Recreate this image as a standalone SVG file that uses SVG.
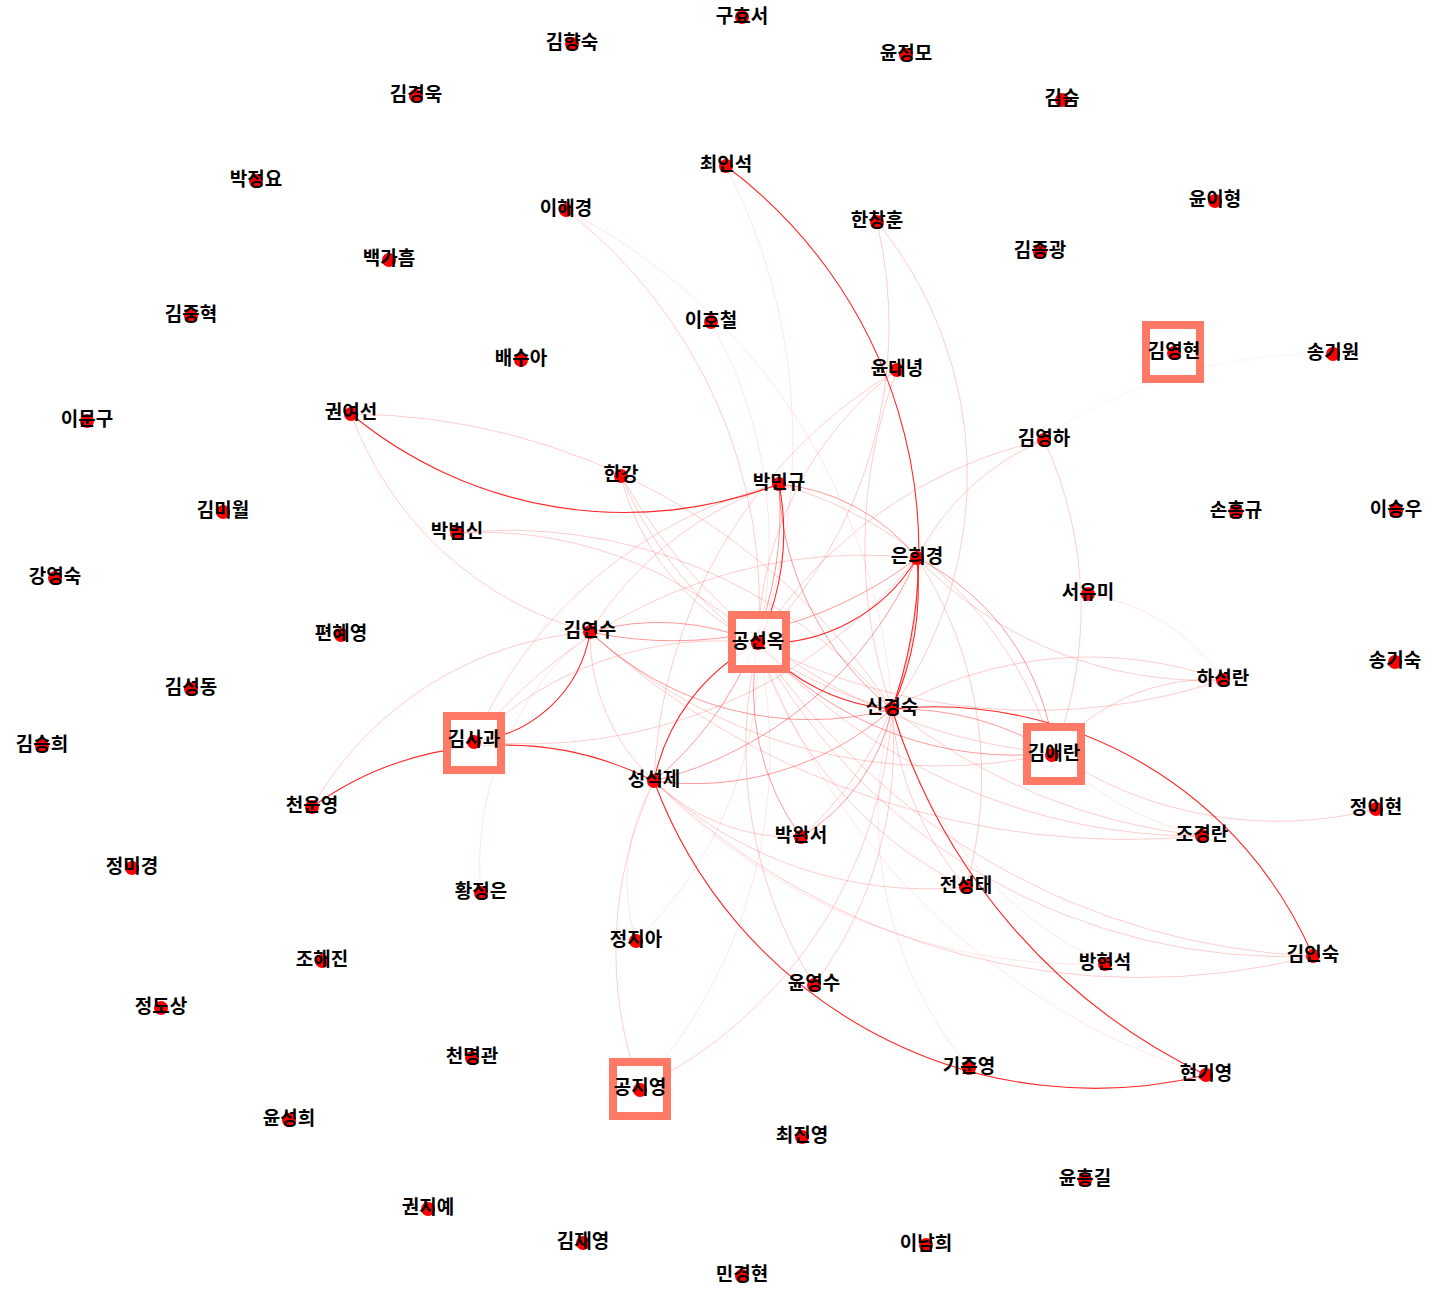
<svg xmlns="http://www.w3.org/2000/svg" width="1434" height="1289" viewBox="0 0 1434 1289">
<style>
.e{fill:none;stroke:#ff0000}
.a{stroke-opacity:.85;stroke-width:1.1}
.b{stroke-opacity:.4;stroke-width:1}
.c{stroke-opacity:.2;stroke-width:1}
.d{stroke-opacity:.1;stroke-width:1}
.hl{fill:#fff;fill-opacity:.85;stroke:#ff7a66;stroke-width:8}
.dot{fill:#ff0000}
.lbl{font-family:"Noto Sans CJK KR","Noto Sans",sans-serif;font-size:19px;font-weight:bold;fill:#000;text-anchor:middle;dominant-baseline:central}
</style>
<rect width="1434" height="1289" fill="#fff"/>
<g id="edges">
<path class="e a" d="M726,166 A480,480 0 0 1 892,709"/>
<path class="e a" d="M351,414 A430,430 0 0 0 779,484"/>
<path class="e a" d="M590,632 A130,130 0 0 1 474,741"/>
<path class="e a" d="M312,807 A330,330 0 0 1 654,781"/>
<path class="e a" d="M654,781 A470,470 0 0 0 1206,1075"/>
<path class="e a" d="M892,709 A600,600 0 0 0 1206,1075"/>
<path class="e a" d="M892,709 A412,412 0 0 1 1313,956"/>
<path class="e a" d="M758,643 A175,175 0 0 0 917,558"/>
<path class="e a" d="M758,643 A200,200 0 0 0 892,709"/>
<path class="e a" d="M654,781 A200,200 0 0 1 758,643"/>
<path class="e b" d="M917,558 A390,390 0 0 1 654,781"/>
<path class="e a" d="M917,558 A300,300 0 0 1 892,709"/>
<path class="e a" d="M779,484 A250,250 0 0 1 758,643"/>
<path class="e b" d="M590,632 A250,250 0 0 1 758,643"/>
<path class="e b" d="M758,643 A350,350 0 0 0 1054,753"/>
<path class="e b" d="M779,484 A300,300 0 0 0 892,709"/>
<path class="e b" d="M779,484 A350,350 0 0 1 654,781"/>
<path class="e b" d="M779,484 A200,200 0 0 1 917,558"/>
<path class="e c" d="M779,484 A400,400 0 0 1 1054,753"/>
<path class="e b" d="M917,558 A400,400 0 0 1 590,632"/>
<path class="e c" d="M917,558 A500,500 0 0 1 474,741"/>
<path class="e b" d="M590,632 A320,320 0 0 0 892,709"/>
<path class="e c" d="M590,632 A520,520 0 0 0 1054,753"/>
<path class="e c" d="M590,632 A200,200 0 0 0 654,781"/>
<path class="e b" d="M654,781 A300,300 0 0 0 892,709"/>
<path class="e c" d="M654,781 A200,200 0 0 0 801,837"/>
<path class="e c" d="M892,709 A600,600 0 0 0 1202,836"/>
<path class="e c" d="M1054,753 A200,200 0 0 1 1223,680"/>
<path class="e c" d="M892,709 A400,400 0 0 1 1223,680"/>
<path class="e b" d="M917,558 A250,250 0 0 1 1054,753"/>
<path class="e c" d="M917,558 A400,400 0 0 0 1223,680"/>
<path class="e c" d="M1044,440 A250,250 0 0 0 917,558"/>
<path class="e c" d="M1044,440 A450,450 0 0 0 758,643"/>
<path class="e c" d="M1044,440 A400,400 0 0 1 1054,753"/>
<path class="e c" d="M877,222 A450,450 0 0 1 758,643"/>
<path class="e c" d="M877,222 A400,400 0 0 1 892,709"/>
<path class="e c" d="M897,370 A350,350 0 0 0 758,643"/>
<path class="e c" d="M897,370 A500,500 0 0 0 654,781"/>
<path class="e c" d="M897,370 A500,500 0 0 0 892,709"/>
<path class="e c" d="M566,210 A500,500 0 0 1 758,643"/>
<path class="e d" d="M566,210 A600,600 0 0 1 892,709"/>
<path class="e d" d="M726,166 A600,600 0 0 1 758,643"/>
<path class="e d" d="M711,322 A450,450 0 0 1 758,643"/>
<path class="e c" d="M351,414 A650,650 0 0 1 892,709"/>
<path class="e c" d="M351,414 A350,350 0 0 0 590,632"/>
<path class="e c" d="M621,476 A250,250 0 0 0 758,643"/>
<path class="e c" d="M621,476 A400,400 0 0 0 892,709"/>
<path class="e c" d="M621,476 A550,550 0 0 0 1054,753"/>
<path class="e c" d="M457,533 A400,400 0 0 1 758,643"/>
<path class="e c" d="M457,533 A500,500 0 0 1 892,709"/>
<path class="e c" d="M474,741 A350,350 0 0 1 758,643"/>
<path class="e c" d="M474,741 A500,500 0 0 1 917,558"/>
<path class="e c" d="M312,807 A350,350 0 0 1 590,632"/>
<path class="e d" d="M481,893 A300,300 0 0 1 590,632"/>
<path class="e c" d="M640,1088 A400,400 0 0 1 654,781"/>
<path class="e d" d="M640,1088 A500,500 0 0 0 758,643"/>
<path class="e c" d="M640,1088 A450,450 0 0 0 892,709"/>
<path class="e d" d="M636,941 A400,400 0 0 0 758,643"/>
<path class="e d" d="M636,941 A200,200 0 0 1 654,781"/>
<path class="e b" d="M801,837 A250,250 0 0 1 758,643"/>
<path class="e b" d="M801,837 A200,200 0 0 0 892,709"/>
<path class="e c" d="M801,837 A350,350 0 0 0 917,558"/>
<path class="e c" d="M814,985 A450,450 0 0 1 758,643"/>
<path class="e c" d="M814,985 A400,400 0 0 0 892,709"/>
<path class="e c" d="M966,887 A400,400 0 0 1 758,643"/>
<path class="e c" d="M966,887 A400,400 0 0 1 654,781"/>
<path class="e c" d="M1313,956 A700,700 0 0 1 654,781"/>
<path class="e c" d="M1313,956 A700,700 0 0 1 758,643"/>
<path class="e c" d="M1202,836 A800,800 0 0 1 590,632"/>
<path class="e c" d="M1202,836 A600,600 0 0 1 758,643"/>
<path class="e c" d="M1376,809 A400,400 0 0 1 1054,753"/>
<path class="e c" d="M1223,680 A600,600 0 0 1 758,643"/>
<path class="e d" d="M1088,594 A200,200 0 0 1 1223,680"/>
<path class="e d" d="M1105,964 A600,600 0 0 1 654,781"/>
<path class="e d" d="M1105,964 A400,400 0 0 1 892,709"/>
<path class="e d" d="M1206,1075 A700,700 0 0 1 758,643"/>
<path class="e d" d="M969,1068 A400,400 0 0 1 892,709"/>
<path class="e" stroke-opacity=".06" d="M1333,354 A500,500 0 0 0 917,558"/>
<path class="e d" d="M1054,753 A300,300 0 0 0 1202,836"/>
<path class="e c" d="M892,709 A300,300 0 0 0 966,887"/>
<path class="e c" d="M917,558 A400,400 0 0 1 966,887"/>
<path class="e b" d="M892,709 A300,300 0 0 1 1054,753"/>
<path class="e c" d="M758,643 A600,600 0 0 0 1313,956"/>
<path class="e c" d="M779,484 A350,350 0 0 0 590,632"/>
<path class="e c" d="M779,484 A450,450 0 0 0 474,741"/>
</g>
<g id="nodes">
<g id="n1"><circle class="dot" cx="742" cy="17" r="7"/><text class="lbl" x="742" y="14">구효서</text></g>
<g id="n2"><circle class="dot" cx="572" cy="44" r="7"/><text class="lbl" x="572" y="40">김향숙</text></g>
<g id="n3"><circle class="dot" cx="906" cy="55" r="7"/><text class="lbl" x="906" y="51">윤정모</text></g>
<g id="n4"><circle class="dot" cx="416" cy="96" r="7"/><text class="lbl" x="416" y="92">김경욱</text></g>
<g id="n5"><circle class="dot" cx="1062" cy="100" r="7"/><text class="lbl" x="1062" y="96">김숨</text></g>
<g id="n6"><circle class="dot" cx="726" cy="166" r="7"/><text class="lbl" x="726" y="162">최인석</text></g>
<g id="n7"><circle class="dot" cx="256" cy="181" r="7"/><text class="lbl" x="256" y="177">박정요</text></g>
<g id="n8"><circle class="dot" cx="566" cy="210" r="7"/><text class="lbl" x="566" y="206">이해경</text></g>
<g id="n9"><circle class="dot" cx="1215" cy="201" r="7"/><text class="lbl" x="1215" y="197">윤이형</text></g>
<g id="n10"><circle class="dot" cx="877" cy="222" r="7"/><text class="lbl" x="877" y="218">한창훈</text></g>
<g id="n11"><circle class="dot" cx="1040" cy="252" r="7"/><text class="lbl" x="1040" y="248">김종광</text></g>
<g id="n12"><circle class="dot" cx="389" cy="260" r="7"/><text class="lbl" x="389" y="256">백가흠</text></g>
<g id="n13"><circle class="dot" cx="191" cy="316" r="7"/><text class="lbl" x="191" y="312">김중혁</text></g>
<g id="n14"><circle class="dot" cx="711" cy="322" r="7"/><text class="lbl" x="711" y="318">이호철</text></g>
<g id="n15"><rect class="hl" x="1146" y="325" width="54" height="54"/><circle class="dot" cx="1174" cy="353" r="7"/><text class="lbl" x="1174" y="349">김영현</text></g>
<g id="n16"><circle class="dot" cx="1333" cy="354" r="7"/><text class="lbl" x="1333" y="350">송기원</text></g>
<g id="n17"><circle class="dot" cx="521" cy="360" r="7"/><text class="lbl" x="521" y="356">배수아</text></g>
<g id="n18"><circle class="dot" cx="897" cy="370" r="7"/><text class="lbl" x="897" y="366">윤대녕</text></g>
<g id="n19"><circle class="dot" cx="87" cy="421" r="7"/><text class="lbl" x="87" y="417">이문구</text></g>
<g id="n20"><circle class="dot" cx="351" cy="414" r="7"/><text class="lbl" x="351" y="410">권여선</text></g>
<g id="n21"><circle class="dot" cx="1044" cy="440" r="7"/><text class="lbl" x="1044" y="436">김영하</text></g>
<g id="n22"><circle class="dot" cx="621" cy="476" r="7"/><text class="lbl" x="621" y="472">한강</text></g>
<g id="n23"><circle class="dot" cx="779" cy="484" r="7"/><text class="lbl" x="779" y="480">박민규</text></g>
<g id="n24"><circle class="dot" cx="223" cy="512" r="7"/><text class="lbl" x="223" y="508">김미월</text></g>
<g id="n25"><circle class="dot" cx="1236" cy="512" r="7"/><text class="lbl" x="1236" y="508">손홍규</text></g>
<g id="n26"><circle class="dot" cx="1396" cy="511" r="7"/><text class="lbl" x="1396" y="507">이승우</text></g>
<g id="n27"><circle class="dot" cx="457" cy="533" r="7"/><text class="lbl" x="457" y="529">박범신</text></g>
<g id="n28"><circle class="dot" cx="917" cy="558" r="7"/><text class="lbl" x="917" y="554">은희경</text></g>
<g id="n29"><circle class="dot" cx="55" cy="578" r="7"/><text class="lbl" x="55" y="574">강영숙</text></g>
<g id="n30"><circle class="dot" cx="1088" cy="594" r="7"/><text class="lbl" x="1088" y="590">서유미</text></g>
<g id="n31"><circle class="dot" cx="341" cy="635" r="7"/><text class="lbl" x="341" y="631">편혜영</text></g>
<g id="n32"><circle class="dot" cx="590" cy="632" r="7"/><text class="lbl" x="590" y="628">김연수</text></g>
<g id="n33"><rect class="hl" x="732" y="615" width="54" height="54"/><circle class="dot" cx="758" cy="643" r="7"/><text class="lbl" x="758" y="639">공선옥</text></g>
<g id="n34"><circle class="dot" cx="1395" cy="662" r="7"/><text class="lbl" x="1395" y="658">송기숙</text></g>
<g id="n35"><circle class="dot" cx="191" cy="689" r="7"/><text class="lbl" x="191" y="685">김성동</text></g>
<g id="n36"><circle class="dot" cx="1223" cy="680" r="7"/><text class="lbl" x="1223" y="676">하성란</text></g>
<g id="n37"><circle class="dot" cx="892" cy="709" r="7"/><text class="lbl" x="892" y="705">신경숙</text></g>
<g id="n38"><circle class="dot" cx="42" cy="746" r="7"/><text class="lbl" x="42" y="742">김승희</text></g>
<g id="n39"><rect class="hl" x="447" y="716" width="54" height="54"/><circle class="dot" cx="474" cy="742" r="7"/><text class="lbl" x="474" y="737">김사과</text></g>
<g id="n40"><rect class="hl" x="1027" y="727" width="54" height="54"/><circle class="dot" cx="1052" cy="755" r="7"/><text class="lbl" x="1054" y="751">김애란</text></g>
<g id="n41"><circle class="dot" cx="654" cy="781" r="7"/><text class="lbl" x="654" y="777">성석제</text></g>
<g id="n42"><circle class="dot" cx="312" cy="807" r="7"/><text class="lbl" x="312" y="803">천운영</text></g>
<g id="n43"><circle class="dot" cx="1376" cy="809" r="7"/><text class="lbl" x="1376" y="805">정이현</text></g>
<g id="n44"><circle class="dot" cx="801" cy="837" r="7"/><text class="lbl" x="801" y="833">박완서</text></g>
<g id="n45"><circle class="dot" cx="1202" cy="836" r="7"/><text class="lbl" x="1202" y="832">조경란</text></g>
<g id="n46"><circle class="dot" cx="132" cy="868" r="7"/><text class="lbl" x="132" y="864">정미경</text></g>
<g id="n47"><circle class="dot" cx="966" cy="887" r="7"/><text class="lbl" x="966" y="883">전성태</text></g>
<g id="n48"><circle class="dot" cx="481" cy="893" r="7"/><text class="lbl" x="481" y="889">황정은</text></g>
<g id="n49"><circle class="dot" cx="636" cy="941" r="7"/><text class="lbl" x="636" y="937">정지아</text></g>
<g id="n50"><circle class="dot" cx="322" cy="961" r="7"/><text class="lbl" x="322" y="957">조해진</text></g>
<g id="n51"><circle class="dot" cx="1105" cy="964" r="7"/><text class="lbl" x="1105" y="960">방현석</text></g>
<g id="n52"><circle class="dot" cx="1313" cy="956" r="7"/><text class="lbl" x="1313" y="952">김인숙</text></g>
<g id="n53"><circle class="dot" cx="814" cy="985" r="7"/><text class="lbl" x="814" y="981">윤영수</text></g>
<g id="n54"><circle class="dot" cx="161" cy="1008" r="7"/><text class="lbl" x="161" y="1004">정도상</text></g>
<g id="n55"><circle class="dot" cx="472" cy="1058" r="7"/><text class="lbl" x="472" y="1054">천명관</text></g>
<g id="n56"><circle class="dot" cx="969" cy="1068" r="7"/><text class="lbl" x="969" y="1064">기준영</text></g>
<g id="n57"><circle class="dot" cx="1206" cy="1075" r="7"/><text class="lbl" x="1206" y="1071">현기영</text></g>
<g id="n58"><rect class="hl" x="613" y="1062" width="54" height="54"/><circle class="dot" cx="640" cy="1090" r="7"/><text class="lbl" x="640" y="1085">공지영</text></g>
<g id="n59"><circle class="dot" cx="289" cy="1120" r="7"/><text class="lbl" x="289" y="1116">윤성희</text></g>
<g id="n60"><circle class="dot" cx="802" cy="1137" r="7"/><text class="lbl" x="802" y="1133">최진영</text></g>
<g id="n61"><circle class="dot" cx="1085" cy="1180" r="7"/><text class="lbl" x="1085" y="1176">윤흥길</text></g>
<g id="n62"><circle class="dot" cx="428" cy="1209" r="7"/><text class="lbl" x="428" y="1205">권지예</text></g>
<g id="n63"><circle class="dot" cx="583" cy="1243" r="7"/><text class="lbl" x="583" y="1239">김재영</text></g>
<g id="n64"><circle class="dot" cx="926" cy="1245" r="7"/><text class="lbl" x="926" y="1241">이남희</text></g>
<g id="n65"><circle class="dot" cx="742" cy="1276" r="7"/><text class="lbl" x="742" y="1272">민경현</text></g>
</g>
</svg>
